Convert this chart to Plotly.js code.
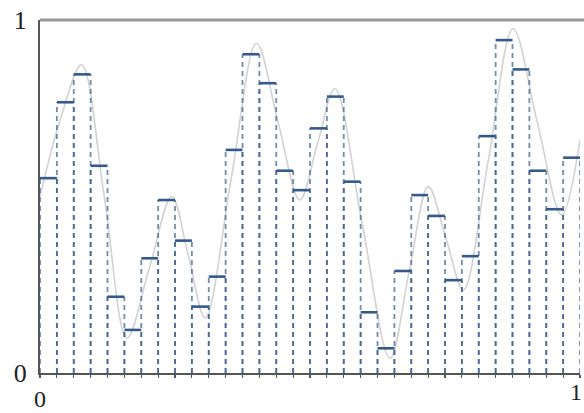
<!DOCTYPE html>
<html>
<head>
<meta charset="utf-8">
<script src="https://cdn.plot.ly/plotly-3.0.1.min.js"></script>
<style>html,body{margin:0;padding:0;background:#fff;overflow:hidden;}#chart{width:584px;height:413px;}</style>
</head>
<body>
<div id="chart"></div>
<script>
// Sampled (held) values, one per interval
const sampleValues = [0.552, 0.767, 0.846, 0.587, 0.216, 0.122, 0.325, 0.490,
  0.375, 0.188, 0.273, 0.632, 0.903, 0.821, 0.573, 0.518,
  0.693, 0.783, 0.542, 0.172, 0.070, 0.289, 0.504, 0.445,
  0.263, 0.331, 0.671, 0.943, 0.860, 0.573, 0.464, 0.610];
// Underlying smooth signal
const curveX = [0.000, 0.038, 0.077, 0.119, 0.161, 0.203, 0.244, 0.275, 0.306, 0.354,
  0.401, 0.441, 0.481, 0.514, 0.546, 0.597, 0.648, 0.684, 0.719, 0.752,
  0.784, 0.830, 0.876, 0.921, 0.966, 1.000];
const curveY = [0.50, 0.72, 0.873, 0.50, 0.099, 0.30, 0.50, 0.33, 0.156, 0.55,
  0.934, 0.71, 0.49, 0.65, 0.806, 0.42, 0.042, 0.29, 0.528, 0.38,
  0.235, 0.60, 0.975, 0.71, 0.448, 0.66];
const xTickLabels = ["0", "1"];
const yTickLabels = ["0", "1"];

const N = sampleValues.length;
const hx = [], hy = [], vx = [], vy = [], tickvals = [], ticktext = [];
for (let i = 0; i < N; i++) {
  const a = i / N, b = (i + 1) / N, v = sampleValues[i];
  hx.push(a, b, null); hy.push(v, v, null);
  vx.push(a, a, null, b, b, null); vy.push(0, v, null, 0, v, null);
}
for (let i = 0; i <= N; i++) {
  tickvals.push(i / N);
  ticktext.push(i === 0 ? xTickLabels[0] : "");
}

const traces = [
  {x: curveX, y: curveY, mode: 'lines', line: {color: '#d2d2d2', width: 1.6, shape: 'spline', smoothing: 1}, hoverinfo: 'skip'},
  {x: vx, y: vy, mode: 'lines', line: {color: 'rgba(55,90,140,0.7)', width: 1.8, dash: '5px,4px'}, hoverinfo: 'skip'},
  {x: hx, y: hy, mode: 'lines', line: {color: '#34598a', width: 2.6}, hoverinfo: 'skip'}
];

const layout = {
  width: 584, height: 413,
  margin: {l: 40, r: 4, t: 20, b: 40},
  paper_bgcolor: '#fff', plot_bgcolor: '#fff',
  showlegend: false,
  font: {family: 'Liberation Serif, serif', size: 26, color: '#222'},
  xaxis: {range: [0, 1], showgrid: false, zeroline: false, showline: true, linecolor: '#555', linewidth: 2,
    tickmode: 'array', tickvals: tickvals, ticktext: ticktext, ticks: 'outside', ticklen: 3, tickcolor: '#555', tickwidth: 1.2,
    tickfont: {size: 24}, tickangle: 0, fixedrange: true},
  yaxis: {range: [0, 1], showgrid: false, zeroline: false, showline: true, linecolor: '#555', linewidth: 2,
    tickmode: 'array', tickvals: [0, 1], ticktext: yTickLabels, ticks: '', ticklabelstandoff: 6, fixedrange: true},
  shapes: [
    {type: 'line', xref: 'paper', yref: 'paper', x0: 0, x1: 1.02, y0: 1, y1: 1, line: {color: '#999', width: 3}}
  ],
  annotations: [
    {x: 1, xref: 'x', y: 0, yref: 'paper', yanchor: 'top', xanchor: 'right', xshift: 4, yshift: -4, text: xTickLabels[1],
     showarrow: false, font: {family: 'Liberation Serif, serif', size: 24, color: '#222'}}
  ]
};
Plotly.newPlot('chart', traces, layout, {staticPlot: true, displayModeBar: false});
</script>
</body>
</html>
